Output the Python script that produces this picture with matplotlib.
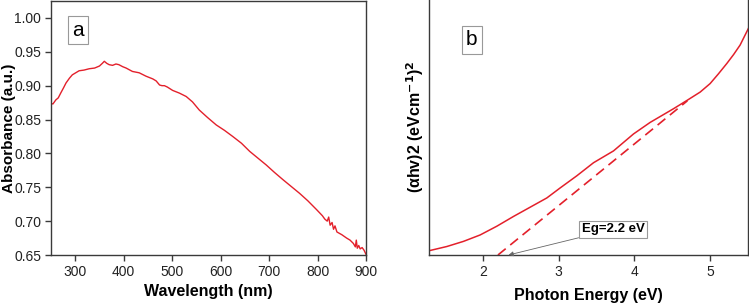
import matplotlib
matplotlib.use("Agg")
import matplotlib.pyplot as plt

plt.rcParams['font.family'] = ['Liberation Sans', 'DejaVu Sans']

# Panel a: absorbance spectrum
wavelength = [248, 254, 260, 265, 270, 276, 281, 288, 294, 301, 308, 318, 329, 340, 350, 356, 360,
              365, 370, 377, 384, 390, 398, 405, 418, 432, 446, 460, 467, 474, 479, 484, 490,
              501, 515, 529, 542, 556, 573, 591, 608, 625, 643, 660, 677, 694, 711, 729, 746,
              763, 780, 798, 810, 815, 820, 823, 826, 830, 833, 836, 840, 850, 860, 867, 874,
              878, 880, 882, 885, 888, 892, 896, 900]
absorbance = [0.874, 0.873, 0.879, 0.882, 0.889, 0.897, 0.904, 0.911, 0.916, 0.919, 0.922, 0.923,
              0.925, 0.926, 0.929, 0.933, 0.936, 0.933, 0.931, 0.930, 0.932, 0.931, 0.928, 0.926,
              0.921, 0.919, 0.914, 0.910, 0.907, 0.901, 0.900, 0.900, 0.898, 0.893, 0.889, 0.884,
              0.876, 0.864, 0.853, 0.842, 0.834, 0.825, 0.815, 0.803, 0.793, 0.783, 0.772, 0.761,
              0.751, 0.741, 0.730, 0.717, 0.708, 0.703, 0.700, 0.706, 0.694, 0.698, 0.688, 0.693,
              0.684, 0.680, 0.675, 0.672, 0.667, 0.662, 0.672, 0.660, 0.664, 0.659, 0.661, 0.657, 0.651]

# Panel b: Tauc plot (arbitrary units)
energy = [1.296, 1.525, 1.745, 1.965, 2.185, 2.405, 2.625, 2.845, 3.021, 3.24, 3.461, 3.725,
          3.989, 4.209, 4.516, 4.692, 4.869, 5.0, 5.11, 5.22, 5.31, 5.396, 5.506]
tauc = [0.017, 0.033, 0.053, 0.078, 0.112, 0.150, 0.186, 0.222, 0.261, 0.308, 0.359, 0.405,
        0.471, 0.516, 0.569, 0.601, 0.634, 0.667, 0.705, 0.745, 0.780, 0.817, 0.882]
fit_x = [2.2, 4.7]
fit_y = [0.0, 0.600]
eg_value = 2.2

red = '#e3202b'
spine_c = '#3a3a3a'

fig = plt.figure(figsize=(7.49, 3.03), dpi=100)
W, H = 749, 303
ax1 = fig.add_axes([51 / W, 48 / H, 315 / W, 254 / H])
ax2 = fig.add_axes([429 / W, 48 / H, 319 / W, 257 / H])

for ax in (ax1, ax2):
    for s in ax.spines.values():
        s.set_color(spine_c)
        s.set_linewidth(1.0)
    ax.tick_params(direction='out', length=4, width=1, color=spine_c, labelsize=10,
                   labelcolor='#222222', pad=3)

ax1.plot(wavelength, absorbance, color=red, lw=1.0)
ax1.set_xlim(250, 900)
ax1.set_ylim(0.65, 1.025)
ax1.set_xticks([300, 400, 500, 600, 700, 800, 900])
ax1.set_yticks([0.65, 0.70, 0.75, 0.80, 0.85, 0.90, 0.95, 1.00])
ax1.set_yticklabels(['%.2f' % v for v in [0.65, 0.70, 0.75, 0.80, 0.85, 0.90, 0.95, 1.00]])
ax1.set_xlabel('Wavelength (nm)', fontsize=11.5, fontweight='bold', labelpad=4)
ax1.set_ylabel('Absorbance (a.u.)', fontsize=11, fontweight='bold')
ax1.yaxis.set_label_coords(-0.111, 0.5)
ax1.text(306, 0.982, 'a', fontsize=15, ha='center', va='center',
         bbox=dict(boxstyle='square,pad=0.2', fc='white', ec='#999999', lw=0.8))

ax2.plot(energy, tauc, color=red, lw=1.1)
ax2.plot(fit_x, fit_y, color=red, lw=1.2, ls=(0, (6, 3.5)))
ax2.set_xlim(1.29, 5.5)
ax2.set_ylim(0, 1.0)
ax2.set_xticks([2, 3, 4, 5])
ax2.set_yticks([])
ax2.set_xlabel('Photon Energy (eV)', fontsize=11.5, fontweight='bold', labelpad=7)
ax2.set_ylabel(r'(αhv)2 (eVcm$^{\mathbf{-1}}$)$^{\mathbf{2}}$', fontsize=11.5, fontweight='bold')
ax2.yaxis.set_label_coords(-0.008, 0.5)
ax2.text(1.855, 0.837, 'b', fontsize=15, ha='center', va='center',
         bbox=dict(boxstyle='square,pad=0.2', fc='white', ec='#999999', lw=0.8))
ax2.annotate('Eg=%.1f eV' % eg_value, xy=(2.34, 0.0), xytext=(3.72, 0.10),
             fontsize=9.5, fontweight='bold', ha='center', va='center',
             bbox=dict(boxstyle='square,pad=0.2', fc='white', ec='#999999', lw=0.8),
             arrowprops=dict(arrowstyle='-|>', color='#666666', lw=0.6,
                             shrinkA=0, shrinkB=0, mutation_scale=7))

fig.savefig('out.png', dpi=100)
